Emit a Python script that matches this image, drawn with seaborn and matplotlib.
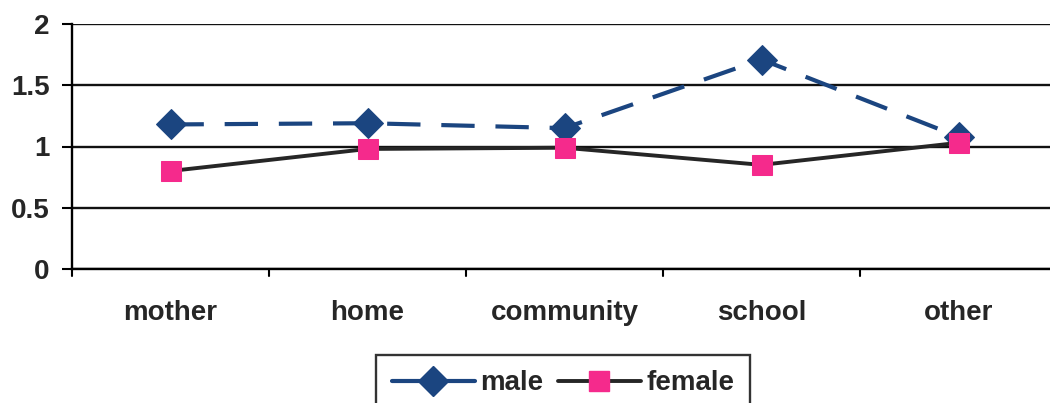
import matplotlib
matplotlib.use("Agg")
import matplotlib.pyplot as plt
from matplotlib.lines import Line2D
import seaborn as sns
import pandas as pd

categories = ["mother", "home", "community", "school", "other"]
male = [1.18, 1.19, 1.15, 1.71, 1.08]
female = [0.80, 0.98, 0.99, 0.85, 1.03]
y_ticks = [0, 0.5, 1, 1.5, 2]
y_tick_labels = ["0", "0.5", "1", "1.5", "2"]

sns.set_style("white")
plt.rcParams["font.family"] = ["Liberation Sans", "DejaVu Sans"]

df = pd.DataFrame({
    "place": categories * 2,
    "value": male + female,
    "sex": ["male"] * len(categories) + ["female"] * len(categories),
})

fig = plt.figure(figsize=(10.5, 4.03), dpi=100)
# plot area runs slightly past the right edge of the canvas
ax = fig.add_axes([72 / 1050, 134 / 403, 985 / 1050, 245 / 403])

navy = "#1b4580"
pink = "#f52a8c"
dark = "#262626"

sns.lineplot(data=df[df.sex == "male"], x="place", y="value", ax=ax, sort=False,
             color=navy, linewidth=3, marker="D", markersize=15,
             markerfacecolor=navy, markeredgecolor=navy, legend=False)
ax.lines[-1].set_dashes((8, 5))
sns.lineplot(data=df[df.sex == "female"], x="place", y="value", ax=ax, sort=False,
             color=dark, linewidth=2.8, marker="s", markersize=14,
             markerfacecolor=pink, markeredgecolor=pink, legend=False)

ax.set_xlim(-0.5, 4.5)
ax.set_ylim(0, 2)
ax.set_yticks(y_ticks)
ax.set_yticklabels(y_tick_labels, fontsize=20, fontweight="bold")
ax.set_xticks(range(len(categories)))
ax.set_xticklabels(categories, fontsize=20, fontweight="bold")
ax.tick_params(axis="x", length=0, pad=22)
ax.tick_params(axis="y", length=7, width=1.5, color="black", left=True, pad=9)
# category boundary ticks on the x axis
for b in [-0.5, 0.5, 1.5, 2.5, 3.5]:
    ax.plot([b, b], [0, -0.06], color="black", lw=1.5, clip_on=False)

ax.set_xlabel("")
ax.set_ylabel("")
for y in y_ticks:
    ax.axhline(y, color="#111111", lw=1.7, zorder=0)
for s in ["top", "right"]:
    ax.spines[s].set_visible(False)
for s in ["left", "bottom"]:
    ax.spines[s].set_color("black")
    ax.spines[s].set_linewidth(1.7)

handles = [
    Line2D([], [], color=navy, lw=3, marker="D", markersize=15,
           markerfacecolor=navy, markeredgecolor=navy),
    Line2D([], [], color=dark, lw=2.8, marker="s", markersize=14,
           markerfacecolor=pink, markeredgecolor=pink),
]
leg = fig.legend(handles, ["male", "female"], loc="upper center",
                 bbox_to_anchor=(563 / 1050, 48 / 403), borderaxespad=0,
                 ncol=2, frameon=True, fancybox=False,
                 prop={"size": 20, "weight": "bold"},
                 handlelength=3.0, columnspacing=0.5, handletextpad=0.2,
                 borderpad=0.55)
leg.get_frame().set_edgecolor("black")
leg.get_frame().set_linewidth(1.7)

fig.savefig("out.png", dpi=100)
